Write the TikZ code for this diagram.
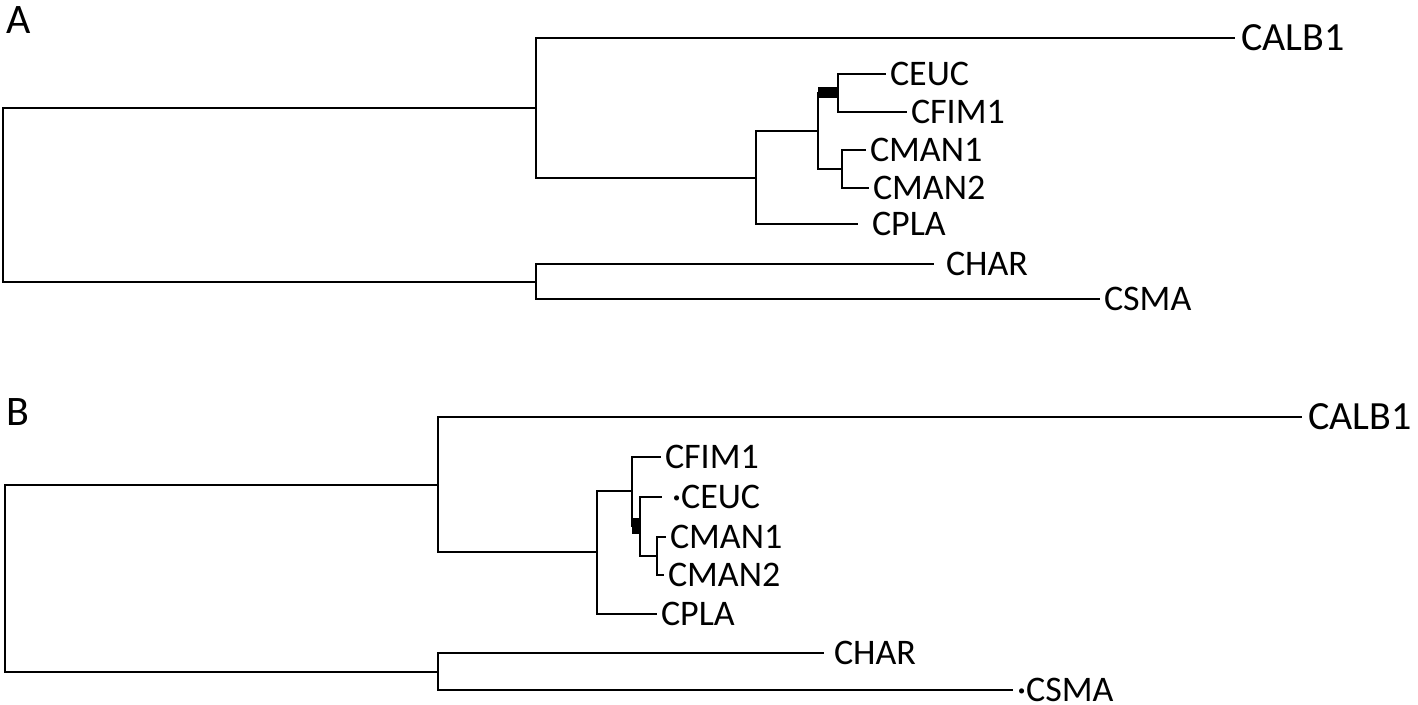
\documentclass[tikz,border=0pt]{standalone}
\usepackage{fontspec}
\setmainfont{Carlito}
\begin{document}
\begin{tikzpicture}[x=0.5pt,y=-0.5pt,line width=1pt,
  leaf/.style={anchor=west,inner xsep=1.5pt,inner ysep=0pt,font=\fontsize{18}{20}\selectfont},
  top/.style={anchor=west,inner xsep=2.5pt,inner ysep=0pt,font=\fontsize{20}{22}\selectfont},
  panel/.style={anchor=north west,inner sep=0pt,font=\fontsize{21}{24}\selectfont},
  hot/.style={line width=#1,line cap=butt}]
\useasboundingbox (0,0) rectangle (1418,705);

\node[panel] (pa) at (5,6) {A};
\coordinate (ra) at (3,195);
\coordinate (a1) at (536,108);
\coordinate (a2) at (756,178);
\coordinate (a3) at (818,131);
\coordinate (a4) at (838,93);
\coordinate (a5) at (842,169);
\coordinate (a6) at (536,282);
\node[top] (acalb) at (1235,38) {CALB1};
\node[leaf] (aceuc) at (886,74) {CEUC};
\node[leaf] (afim) at (907,112) {CFIM1};
\node[leaf] (aman1) at (866,150) {CMAN1};
\node[leaf] (aman2) at (869,188) {CMAN2};
\node[leaf] (apla) at (868,224) {CPLA};
\node[leaf] (ahar) at (942,264) {CHAR};
\node[leaf] (asma) at (1100,299) {CSMA};
\draw (ra) |- (a1);
\draw (ra) |- (a6);
\draw (a1) |- (acalb.west);
\draw (a1) |- (a2);
\draw (a2) |- (a3);
\draw (a2) |- ([xshift=-5pt]apla.west);
\draw (a3) |- (a4);
\draw (a3) |- (a5);
\draw (a4) |- (aceuc.west);
\draw (a4) |- (afim.west);
\draw (a5) |- (aman1.west);
\draw (a5) |- (aman2.west);
\draw (a6) |- ([xshift=-4pt]ahar.west);
\draw (a6) |- (asma.west);
\draw[hot=5.5pt] (a3 |- a4) -- (a4);

\node[panel] (pb) at (5,398) {B};
\coordinate (rb) at (5,579);
\coordinate (b1) at (438,485);
\coordinate (b2) at (597,552);
\coordinate (b3) at (632,491);
\coordinate (b4) at (640,526);
\coordinate (b5) at (657,556);
\coordinate (b6) at (438,672);
\node[top] (bcalb) at (1302,417) {CALB1};
\node[leaf] (bfim) at (661,457) {CFIM1};
\node[leaf] (bceuc) at (668,497) {·CEUC};
\node[leaf] (bman1) at (666,537) {CMAN1};
\node[leaf] (bman2) at (664,575) {CMAN2};
\node[leaf] (bpla) at (657,614) {CPLA};
\node[leaf] (bhar) at (830,653) {CHAR};
\node[leaf] (bsma) at (1013,690) {·CSMA};
\draw (rb) |- (b1);
\draw (rb) |- (b6);
\draw (b1) |- (bcalb.west);
\draw (b1) |- (b2);
\draw (b2) |- (b3);
\draw (b2) |- (bpla.west);
\draw (b3) |- (bfim.west);
\draw (b3) |- (b4);
\draw (b4) |- ([xshift=-3pt]bceuc.west);
\draw (b4) |- (b5);
\draw (b5) |- (bman1.west);
\draw (b5) |- (bman2.west);
\draw (b6) |- ([xshift=-3pt]bhar.west);
\draw (b6) |- (bsma.west);
\draw[hot=8pt] (b3 |- b4) -- (b4);
\end{tikzpicture}
\end{document}
